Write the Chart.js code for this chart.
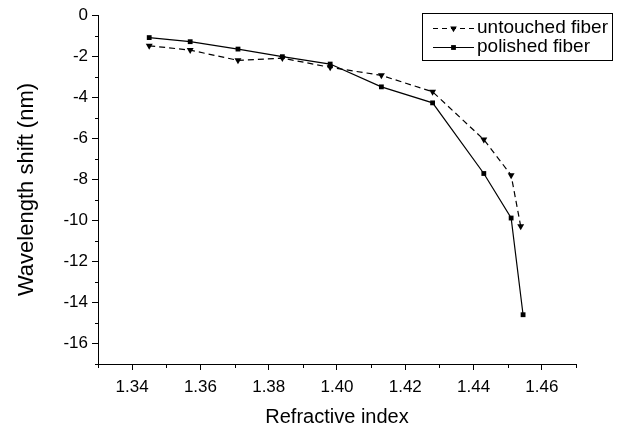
<!DOCTYPE html>
<html>
<head>
<meta charset="utf-8">
<script src="https://cdn.jsdelivr.net/npm/chart.js@4"></script>
<style>
  html, body { margin: 0; padding: 0; background: #fff; }
  #wrap { width: 622px; height: 432px; position: relative; }
</style>
</head>
<body>
<div id="wrap"><canvas id="c" width="622" height="432"></canvas></div>
<script>
// ---- data ----
const refractiveIndex = [1.345, 1.357, 1.371, 1.384, 1.398, 1.413, 1.428, 1.443, 1.451, 1.4545];
const untouchedIndex  = [1.345, 1.357, 1.371, 1.384, 1.398, 1.413, 1.428, 1.443, 1.451, 1.4538];
const untouchedShift  = [-1.5, -1.71, -2.21, -2.1, -2.55, -2.94, -3.74, -6.07, -7.8, -10.29];
const polishedShift   = [-1.1, -1.3, -1.66, -2.03, -2.39, -3.5, -4.28, -7.72, -9.89, -14.6];
const seriesNames = ['untouched fiber', 'polished fiber'];
const xTickValues = [1.34, 1.36, 1.38, 1.40, 1.42, 1.44, 1.46];
const yTickValues = [0, -2, -4, -6, -8, -10, -12, -14, -16];
const xMinorValues = [1.33, 1.35, 1.37, 1.39, 1.41, 1.43, 1.45, 1.47];
const yMinorValues = [-1, -3, -5, -7, -9, -11, -13, -15, -17];
const xTitle = 'Refractive index';
const yTitle = 'Wavelength shift (nm)';

const FONT = "'Liberation Sans', Arial, Helvetica, sans-serif";

function pts(xs, ys) { return xs.map((x, i) => ({ x: x, y: ys[i] })); }

const minorTicks = {
  id: 'minorTicks',
  afterDraw(chart) {
    const ctx = chart.ctx;
    const xs = chart.scales.x, ys = chart.scales.y;
    ctx.save();
    ctx.strokeStyle = '#000';
    ctx.lineWidth = 1;
    ctx.beginPath();
    const yb = Math.round(xs.top) + 0.5;
    xMinorValues.forEach(v => {
      const px = Math.round(xs.getPixelForValue(v)) + 0.5;
      ctx.moveTo(px, yb); ctx.lineTo(px, yb + 3.5);
    });
    const xl = Math.round(ys.right) + 0.5;
    yMinorValues.forEach(v => {
      const py = Math.round(ys.getPixelForValue(v)) + 0.5;
      ctx.moveTo(xl, py); ctx.lineTo(xl - 3.5, py);
    });
    ctx.stroke();
    ctx.restore();
  }
};

const boxLegend = {
  id: 'boxLegend',
  afterDraw(chart) {
    const ctx = chart.ctx;
    ctx.save();
    ctx.strokeStyle = '#000';
    ctx.lineWidth = 1;
    ctx.strokeRect(422.5, 13.5, 190, 47);
    const rows = [
      { y: 28, dash: [5, 4], shape: 'tri', name: seriesNames[0] },
      { y: 47, dash: [], shape: 'rect', name: seriesNames[1] }
    ];
    rows.forEach(r => {
      ctx.setLineDash(r.dash);
      ctx.lineWidth = 1.2;
      ctx.beginPath();
      ctx.moveTo(433, r.y + 0.5); ctx.lineTo(474, r.y + 0.5);
      ctx.stroke();
      ctx.setLineDash([]);
      ctx.fillStyle = '#000';
      const cx = 453.5, cy = r.y + 0.5;
      ctx.beginPath();
      if (r.shape === 'rect') {
        ctx.rect(cx - 2.4, cy - 2.4, 4.8, 4.8);
      } else {
        ctx.moveTo(cx - 3.3, cy - 1.9); ctx.lineTo(cx + 3.3, cy - 1.9); ctx.lineTo(cx, cy + 3.8); ctx.closePath();
      }
      ctx.fill();
      ctx.font = '19px ' + FONT;
      ctx.textBaseline = 'middle';
      ctx.textAlign = 'left';
      ctx.fillText(r.name, 477, r.y);
    });
    ctx.restore();
  }
};

new Chart(document.getElementById('c'), {
  type: 'line',
  data: {
    datasets: [
      {
        label: seriesNames[0],
        data: pts(untouchedIndex, untouchedShift),
        borderColor: '#000', backgroundColor: '#000',
        borderWidth: 1.2, borderDash: [6, 4],
        pointStyle: 'triangle', rotation: 180, pointRadius: 4,
        pointBorderWidth: 0, tension: 0
      },
      {
        label: seriesNames[1],
        data: pts(refractiveIndex, polishedShift),
        borderColor: '#000', backgroundColor: '#000',
        borderWidth: 1.2,
        pointStyle: 'rect', pointRadius: 3.4,
        pointBorderWidth: 0, tension: 0
      }
    ]
  },
  options: {
    responsive: false,
    animation: false,
    layout: { padding: { top: 15, right: 46, left: 0, bottom: 0 } },
    plugins: { legend: { display: false }, tooltip: { enabled: false } },
    scales: {
      x: {
        type: 'linear', min: 1.33, max: 1.47,
        afterBuildTicks: s => { s.ticks = xTickValues.map(v => ({ value: v })); },
        afterFit: s => { s.height = 68; },
        grid: { drawOnChartArea: false, drawTicks: true, tickLength: 6, color: '#000', lineWidth: 1 },
        border: { display: true, color: '#000', width: 1 },
        ticks: { color: '#000', font: { family: FONT, size: 17 }, padding: 7, maxRotation: 0, autoSkip: false,
                 callback: v => Number(v).toFixed(2) },
        title: { display: true, text: xTitle, color: '#000', font: { family: FONT, size: 20 }, padding: { top: 0, bottom: 3 } }
      },
      y: {
        type: 'linear', min: -17, max: 0,
        afterBuildTicks: s => { s.ticks = yTickValues.map(v => ({ value: v })); },
        afterFit: s => { s.width = 98; },
        grid: { drawOnChartArea: false, drawTicks: true, tickLength: 6, color: '#000', lineWidth: 1 },
        border: { display: true, color: '#000', width: 1 },
        ticks: { color: '#000', font: { family: FONT, size: 17 }, padding: 4, autoSkip: false,
                 callback: v => String(Math.round(v)) },
        title: { display: true, text: yTitle, color: '#000', font: { family: FONT, size: 22 }, padding: { top: 14, bottom: 0 } }
      }
    }
  },
  plugins: [minorTicks, boxLegend]
});
</script>
</body>
</html>
